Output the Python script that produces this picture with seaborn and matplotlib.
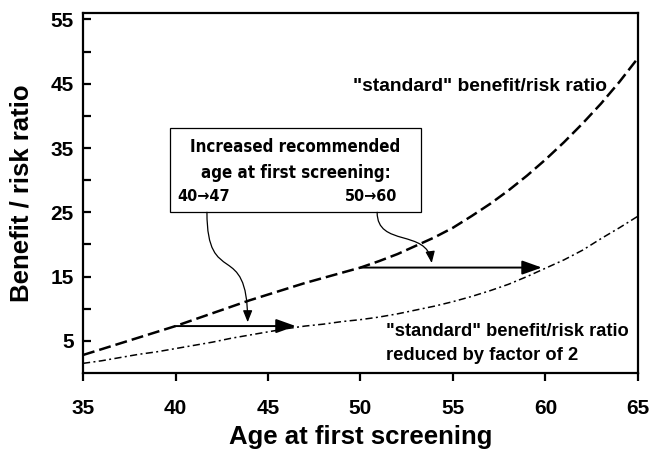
import numpy as np
import pandas as pd
import matplotlib
matplotlib.use("Agg")
import matplotlib.pyplot as plt
import seaborn as sns
from matplotlib import font_manager
from matplotlib.patches import Rectangle, FancyArrowPatch, ArrowStyle
from matplotlib.path import Path
from matplotlib.ticker import FixedLocator

# ---- data ----
ages = [35, 36, 37, 38, 39, 40, 41, 42, 43, 44, 45, 46, 47, 48, 49, 50,
        51, 52, 53, 54, 55, 56, 57, 58, 59, 60, 61, 62, 63, 64, 65]
standard_ratio = [2.8, 3.7, 4.6, 5.5, 6.4, 7.3, 8.3, 9.3, 10.3, 11.3, 12.2,
                  13.1, 14.0, 14.8, 15.6, 16.4, 17.4, 18.5, 19.8, 21.1, 22.6,
                  24.4, 26.3, 28.4, 30.7, 33.2, 35.9, 38.8, 41.9, 45.3, 49.0]
reduced_ratio = [1.5, 1.9, 2.4, 2.9, 3.3, 3.8, 4.3, 4.8, 5.4, 5.9, 6.4,
                 6.9, 7.3, 7.6, 8.0, 8.3, 8.7, 9.2, 9.8, 10.4, 11.1,
                 11.9, 12.8, 13.8, 15.0, 16.3, 17.6, 19.1, 20.9, 22.6, 24.4]
x_ticks = [35, 40, 45, 50, 55, 60, 65]
y_ticks = [5, 15, 25, 35, 45, 55]
y_minor_ticks = [10, 20, 30, 40, 50]
shift_from = [40, 50]
shift_to = [46.5, 59.8]
shift_level = [7.3, 16.4]
shift_labels = ["40\u219247", "50\u219260"]
box_title = ["Increased recommended", "age at first screening:"]
label_standard = "\"standard\" benefit/risk ratio"
label_reduced = ["\"standard\" benefit/risk ratio", "reduced by factor of 2"]

# ---- style ----
sns.set_theme(style="white")
fonts = font_manager.fontManager.ttflist
names = {f.name for f in fonts}
main_font = "Liberation Sans" if "Liberation Sans" in names else "DejaVu Sans"
if "Liberation Sans Narrow" in names:
    narrow_font, narrow_stretch, box_fs = "Liberation Sans Narrow", "normal", 15.2
elif any(f.name == "DejaVu Sans" and str(f.stretch) in ("condensed", "semi-condensed")
         for f in fonts):
    narrow_font, narrow_stretch, box_fs = "DejaVu Sans", "condensed", 12.2
else:
    narrow_font, narrow_stretch, box_fs = main_font, "normal", 12.6
plt.rcParams["font.family"] = [main_font, "DejaVu Sans"]
plt.rcParams.update({
    "font.weight": "bold",
    "axes.labelweight": "bold",
    "text.color": "black",
    "axes.labelcolor": "black",
    "xtick.color": "black",
    "ytick.color": "black",
    "axes.edgecolor": "black",
})

fig = plt.figure(figsize=(6.52, 4.55), dpi=100)
ax = fig.add_axes([83 / 652, 1 - 373 / 455, 555 / 652, 360 / 455])

df = pd.DataFrame({"age": ages, "standard": standard_ratio, "reduced": reduced_ratio})
sns.lineplot(data=df, x="age", y="standard", ax=ax, color="black", linewidth=1.8,
             linestyle=(0, (4.8, 2.0)), errorbar=None)
sns.lineplot(data=df, x="age", y="reduced", ax=ax, color="black", linewidth=1.1,
             linestyle=(0, (4.7, 2.2, 1.3, 2.2)), errorbar=None)

ax.set_xlim(35, 65)
ax.set_ylim(0, 56)
ax.set_xticks(x_ticks)
ax.set_yticks(y_ticks)
ax.yaxis.set_minor_locator(FixedLocator(y_minor_ticks))
ax.tick_params(axis="y", which="both", direction="in", length=5.5, width=1.6,
               left=True, labelsize=15, pad=6.5)
ax.tick_params(axis="x", which="major", direction="out", length=5.5, width=1.6,
               bottom=True, labelsize=15, pad=13.5)
for s in ax.spines.values():
    s.set_linewidth(1.6)
    s.set_color("black")

ax.set_xlabel("Age at first screening", fontsize=18.5, fontweight="bold", va="center")
ax.set_ylabel("Benefit / risk ratio", fontsize=18.5, fontweight="bold", va="center")
ax.xaxis.set_label_coords(0.5, -(437 - 373) / 360)
ax.yaxis.set_label_coords((22 - 83) / 555, 0.5)

# horizontal shift arrows
for a0, a1, lev in zip(shift_from, shift_to, shift_level):
    ax.add_patch(FancyArrowPatch((a0, lev), (a1, lev),
                                 arrowstyle=ArrowStyle("-|>", head_length=12, head_width=4.3),
                                 mutation_scale=1, lw=1.4, color="black",
                                 shrinkA=0, shrinkB=0, zorder=4))

# annotation box
ax.add_patch(Rectangle((39.7, 25.0), 13.57, 13.1, facecolor="white",
                       edgecolor="black", lw=0.9, zorder=3))
box_kw = dict(family=[narrow_font, "DejaVu Sans"], fontstretch=narrow_stretch, zorder=5)
ax.text(46.48, 35.1, box_title[0], ha="center", va="center", fontsize=box_fs, **box_kw)
ax.text(46.48, 31.1, box_title[1], ha="center", va="center", fontsize=box_fs, **box_kw)
ax.text(40.1, 27.4, shift_labels[0], ha="left", va="center", fontsize=box_fs * 0.95, **box_kw)
ax.text(51.97, 27.4, shift_labels[1], ha="right", va="center", fontsize=box_fs * 0.95, **box_kw)

# curved pointer arrows
codes = [Path.MOVETO, Path.CURVE4, Path.CURVE4, Path.CURVE4]
p1 = Path([(41.7, 25.0), (41.7, 13.0), (43.9, 21.0), (43.9, 7.9)], codes)
p2 = Path([(50.9, 25.0), (50.9, 19.5), (53.6, 22.5), (53.85, 17.1)], codes)
for p in (p1, p2):
    ax.add_patch(FancyArrowPatch(path=p,
                                 arrowstyle=ArrowStyle("-|>", head_length=7, head_width=2.8),
                                 mutation_scale=1, lw=0.9, color="black", zorder=4))

# curve labels
ax.text(63.3, 44.5, label_standard, ha="right", va="center", fontsize=13.9)
ax.text(51.4, 6.4, label_reduced[0], ha="left", va="center", fontsize=13.2)
ax.text(51.4, 2.8, label_reduced[1], ha="left", va="center", fontsize=13.2)

fig.savefig("out.png", dpi=100)
